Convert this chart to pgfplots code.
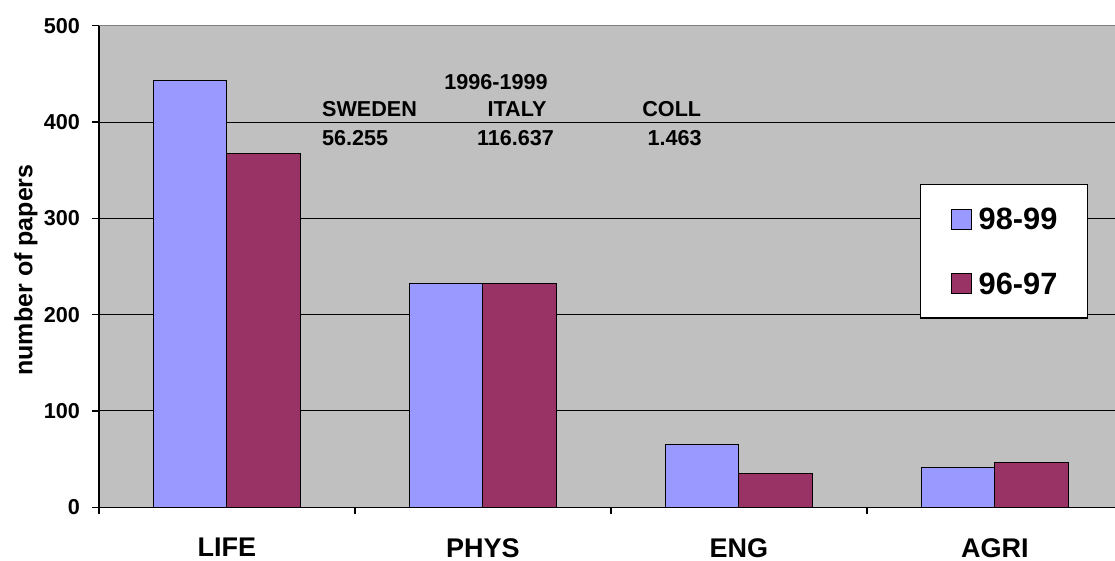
\documentclass[border=0pt]{standalone}
\usepackage{pgfplots}
\pgfplotsset{compat=1.18}
\usepackage{fontspec}
\setmainfont{Liberation Sans}
\definecolor{barblue}{HTML}{9999FF}
\definecolor{barred}{HTML}{993366}
\definecolor{plotbg}{HTML}{C0C0C0}
\begin{document}
\begin{tikzpicture}
\useasboundingbox (-49.5pt,-26.85pt) rectangle (508pt,253.65pt);
\begin{axis}[
  at={(0pt,0pt)}, anchor=south west,
  scale only axis,
  width=508pt, height=240.8pt,
  xmin=-0.5, xmax=3.469,
  ymin=0, ymax=500,
  axis x line*=bottom, axis y line*=left,
  axis line style={-, line width=0.7pt, black},
  axis background/.style={fill=plotbg},
  ybar=0pt, bar width=36.75pt,
  ytick={0,100,200,300,400,500},
  ymajorgrids, grid style={black, line width=0.5pt},
  xtick={-0.5,0.5,1.5,2.5}, xticklabels={},
  extra x ticks={0,1,2,3},
  extra x tick labels={LIFE,PHYS,ENG,AGRI},
  extra x tick style={major tick length=0pt, grid=none,
    xticklabel style={font=\fontsize{13.5}{16}\selectfont\bfseries, yshift=-12pt}},
  tick align=outside, major tick length=3.5pt,
  tick style={black, line width=0.6pt},
  /pgf/number format/assume math mode=true,
  yticklabel style={font=\fontsize{10.8}{13}\selectfont\bfseries, xshift=-2.5pt},
  ylabel={number of papers},
  every axis y label/.style={at={(axis description cs:0,0.4927)}, xshift=-36.5pt, rotate=90, anchor=center, font=\fontsize{12.5}{15}\selectfont\bfseries},
  legend image code/.code={\draw[#1,draw=black,line width=0.5pt] (0pt,-5pt) rectangle (10pt,5pt);},
  legend style={at={(0.8081,0.6707)}, anchor=north west, draw=black, line width=0.6pt, fill=white,
    font=\fontsize{15.4}{18}\selectfont\bfseries,
    inner xsep=15pt, inner ysep=11.8pt, row sep=21.5pt, /tikz/column sep=3.5pt,
    nodes={inner sep=0pt, text depth=0pt}},
  legend cell align=left,
]
\addplot[fill=barblue, draw=black, line width=0.5pt] coordinates {(0,443) (1,232) (2,65) (3,41)};
\addplot[fill=barred, draw=black, line width=0.5pt] coordinates {(0,367) (1,232) (2,35) (3,46)};
\legend{98-99,96-97}
\draw[color=gray, line width=0.8pt] (rel axis cs:0,1) -- (rel axis cs:1,1);
\begin{scope}[every node/.style={inner sep=0pt, font=\fontsize{10.8}{13}\selectfont\bfseries}]
\node[anchor=center] at (axis cs:1.051,441.5) {1996-1999};
\node[anchor=west] at (axis cs:0.370,413.2) {SWEDEN};
\node[anchor=center] at (axis cs:1.133,413.2) {ITALY};
\node[anchor=east] at (axis cs:1.854,413.2) {COLL};
\node[anchor=west] at (axis cs:0.370,383.1) {56.255};
\node[anchor=center] at (axis cs:1.127,383.1) {116.637};
\node[anchor=east] at (axis cs:1.856,383.1) {1.463};
\end{scope}
\end{axis}
\end{tikzpicture}
\end{document}
